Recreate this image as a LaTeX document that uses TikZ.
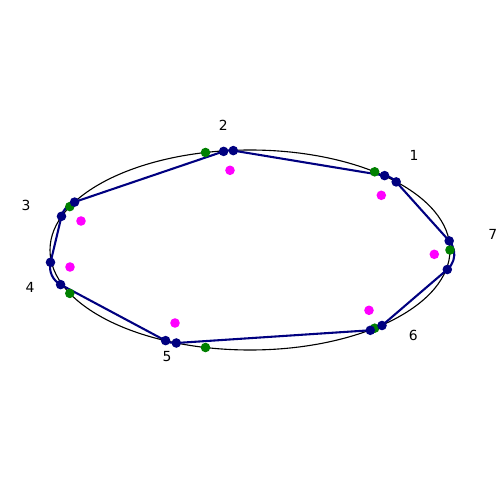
\documentclass[tikz,border=0pt]{standalone}
\usepackage{fontspec}
\setmainfont{DejaVu Sans}
\definecolor{navyc}{RGB}{0,0,128}
\definecolor{greenc}{RGB}{0,128,0}
\definecolor{magc}{RGB}{255,0,255}
\begin{document}
\begin{tikzpicture}[x=0.72pt,y=0.72pt,
  navydot/.style={circle,fill=navyc,inner sep=0pt,minimum size=6.9pt},
  greendot/.style={circle,fill=greenc,inner sep=0pt,minimum size=6.9pt},
  magdot/.style={circle,fill=magc,inner sep=0pt,minimum size=6.9pt},
  lbl/.style={font=\fontsize{10}{12}\selectfont,inner sep=0pt},
  pathline/.style={draw=navyc,line width=1.5pt,line join=round}]
\useasboundingbox (0,0) rectangle (500,500);
% ellipse
\draw[line width=0.8pt] (250,250) ellipse [x radius=144pt, y radius=72pt];
% tangent points
\coordinate (v1in) at (384.6,324.4); \coordinate (v1out) at (396.2,318.1);
\coordinate (v7in) at (449.2,259.1); \coordinate (v7out) at (447.3,230.5);
\coordinate (v6in) at (382.0,174.5); \coordinate (v6out) at (370.3,169.7);
\coordinate (v5in) at (176.3,157.0); \coordinate (v5out) at (165.6,159.4);
\coordinate (v4in) at (60.6,215.4);  \coordinate (v4out) at (50.5,237.7);
\coordinate (v3in) at (61.5,283.7);  \coordinate (v3out) at (74.6,297.9);
\coordinate (v2in) at (223.6,348.6); \coordinate (v2out) at (233.3,349.4);
% filleted polygon
\draw[pathline] (v2out) -- (v1in) arc[start angle=80.62, end angle=41.93, radius=14.4pt]
  -- (v7in) arc[start angle=41.93, end angle=-49.39, radius=14.4pt]
  -- (v6in) arc[start angle=-49.39, end angle=-86.26, radius=14.4pt]
  -- (v5in) arc[start angle=-86.26, end angle=-118.07, radius=14.4pt]
  -- (v4in) arc[start angle=-118.07, end angle=-193.45, radius=14.4pt]
  -- (v3in) arc[start angle=166.55, end angle=108.79, radius=14.4pt]
  -- (v2in) arc[start angle=108.79, end angle=80.62, radius=14.4pt] -- cycle;
% green points on ellipse
\node[greendot] (g7) at (450,250) {};
\node[greendot] (g1) at (374.7,328.2) {};
\node[greendot] (g2) at (205.5,347.5) {};
\node[greendot] (g3) at (69.8,293.4) {};
\node[greendot] (g4) at (69.8,206.6) {};
\node[greendot] (g5) at (205.5,152.5) {};
\node[greendot] (g6) at (374.7,171.8) {};
% magenta centres
\node[magdot] (c1) at (381.3,304.7) {};
\node[magdot] (c2) at (230,329.7) {};
\node[magdot] (c3) at (81,279) {};
\node[magdot] (c4) at (70,233) {};
\node[magdot] (c5) at (175,177) {};
\node[magdot] (c6) at (369,189.7) {};
\node[magdot] (c7) at (434.3,245.7) {};
% navy tangent points
\foreach \p in {v1in,v1out,v7in,v7out,v6in,v6out,v5in,v5out,v4in,v4out,v3in,v3out,v2in,v2out}
  \node[navydot] (n\p) at (\p) {};
% labels
\node[lbl] (l1) at (414,345) {1};
\node[lbl] (l2) at (223.3,374.3) {2};
\node[lbl] (l3) at (26,295) {3};
\node[lbl] (l4) at (30,212.7) {4};
\node[lbl] (l5) at (167,143) {5};
\node[lbl] (l6) at (413.3,165) {6};
\node[lbl] (l7) at (492.7,265.7) {7};
\end{tikzpicture}
\end{document}
